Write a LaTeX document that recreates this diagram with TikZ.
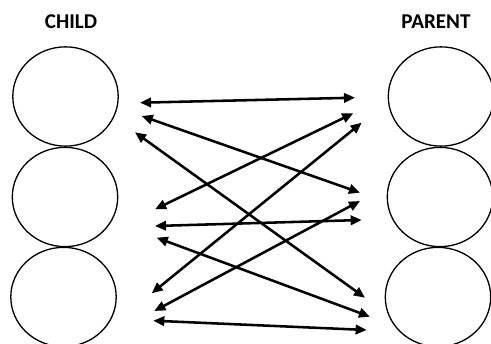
\documentclass[tikz,border=0pt]{standalone}
\usepackage{fontspec}
\setmainfont{Carlito}
\usetikzlibrary{arrows.meta,shapes.geometric}

\begin{document}
\begin{tikzpicture}[
  x=0.02cm,y=-0.02cm,
  ring/.style={draw,ellipse,line width=.75pt,minimum width=60pt,minimum height=56.5pt,inner sep=0pt},
  head/.style={font=\bfseries\large},
  link/.style={{Triangle[length=6.3pt,width=5.4pt]}-{Triangle[length=6.3pt,width=5.4pt]},line width=1.45pt}
]
  \useasboundingbox (0,0) rectangle (491,344);

  \node[head] (child) at (71,22) {CHILD};
  \node[head] (parent) at (436,22) {PARENT};

  \node[ring] (c1) at (65.5,96.5) {};
  \node[ring] (c2) at (65,197) {};
  \node[ring] (c3) at (63.5,297) {};
  \node[ring] (p1) at (441,96.5) {};
  \node[ring] (p2) at (440,197) {};
  \node[ring] (p3) at (438,297) {};

  \foreach \n/\x/\y in {l1/140/102.7,l2/141.7/116,l3/135/132.3,l4/155/209.3,l5/151.7/293.3,
      l6/155/226,l7/154.3/311,l8/156.7/237.7,l9/153.3/320.7}
    \coordinate (\n) at (\x,\y);
  \foreach \n/\x/\y in {r1/355/97.7,r2/360/192.7,r3/365/297.7,r4/353.3/113.3,r5/361.7/122.7,
      r6/361.7/220,r7/360/201,r8/370/316.7,r9/366.7/330}
    \coordinate (\n) at (\x,\y);

  \foreach \i in {1,...,9}
    \draw[link] (l\i) -- (r\i);
\end{tikzpicture}
\end{document}
